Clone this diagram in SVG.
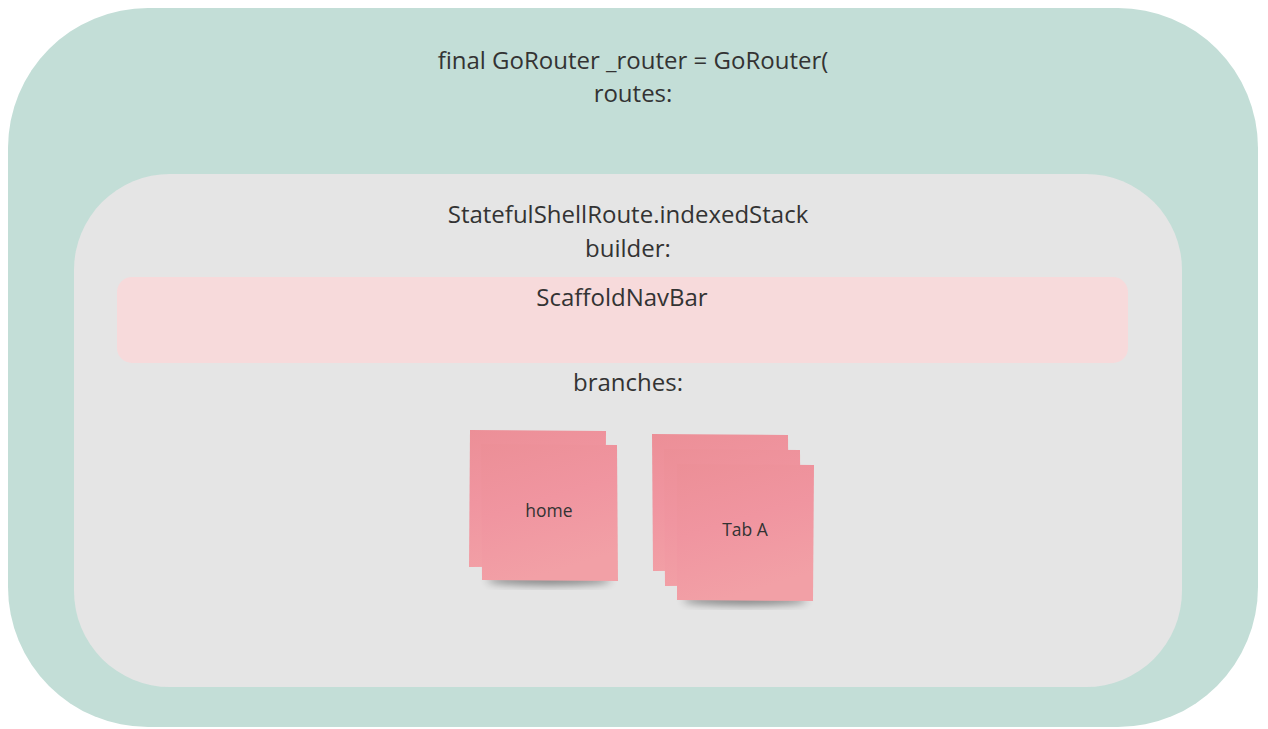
<svg xmlns="http://www.w3.org/2000/svg" width="1268" height="729" viewBox="0 0 1268 729">
<style>
.t{font-family:"Open Sans","Noto Sans","Liberation Sans",sans-serif;fill:#333;text-anchor:middle}
.big{font-size:24px}
.small{font-size:17.5px}
.note{fill:url(#ng)}
</style>
<defs>
<linearGradient id="ng" x1="0" y1="0" x2="0.3" y2="1">
<stop offset="0" stop-color="#ec8f97"/>
<stop offset="0.5" stop-color="#f095a0"/>
<stop offset="1" stop-color="#f2a0a6"/>
</linearGradient>
<filter id="sh" x="-20%" y="-50%" width="140%" height="200%">
<feGaussianBlur stdDeviation="4"/>
</filter>
</defs>
<rect width="1268" height="729" fill="#ffffff"/>
<g id="gorouter">
<rect x="8" y="8" width="1250" height="719" rx="140" ry="140" fill="#c3ded7"/>
<text class="t big" x="633" y="69">final GoRouter _router = GoRouter(</text>
<text class="t big" x="633" y="102">routes:</text>
</g>
<g id="shellroute">
<rect x="74" y="174" width="1108" height="513" rx="96" ry="96" fill="#e5e5e5"/>
<text class="t big" x="628" y="223">StatefulShellRoute.indexedStack</text>
<text class="t big" x="628" y="257">builder:</text>
<text class="t big" x="628" y="391">branches:</text>
</g>
<g id="scaffold">
<rect x="117" y="277" width="1011" height="86" rx="15" ry="15" fill="#f7dadb"/>
<text class="t big" x="622" y="306">ScaffoldNavBar</text>
</g>
<g id="home">
<ellipse cx="549" cy="580" rx="62" ry="5" fill="#000" opacity="0.45" filter="url(#sh)"/>
<polygon class="note" points="470,430 606,431 605,566 469,567"/>
<polygon class="note" points="481,444 617,445 618,581 482,580"/>
<text class="t small" x="549" y="517">home</text>
</g>
<g id="taba">
<ellipse cx="745" cy="600" rx="62" ry="5" fill="#000" opacity="0.45" filter="url(#sh)"/>
<polygon class="note" points="652,434 788,435 789,570 653,571"/>
<polygon class="note" points="664,449 800,450 801,585 665,586"/>
<polygon class="note" points="677,464 814,465 813,601 677,600"/>
<text class="t small" x="745" y="536">Tab A</text>
</g>
<g id="connectors"/>
</svg>
